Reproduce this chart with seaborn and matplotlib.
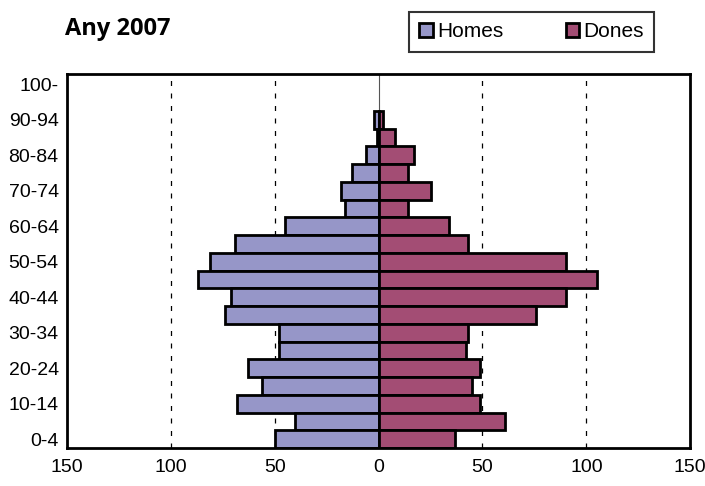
import numpy as np
import pandas as pd
import seaborn as sns
from matplotlib import pyplot as plt
from matplotlib.patches import Patch

ages = ["0-4", "5-9", "10-14", "15-19", "20-24", "25-29", "30-34", "35-39",
        "40-44", "45-49", "50-54", "55-59", "60-64", "65-69", "70-74",
        "75-79", "80-84", "85-89", "90-94", "95-99", "100-"]
homes = [50, 40, 68, 56, 63, 48, 48, 74, 71, 87, 81, 69, 45, 16, 18, 13, 6, 1, 2, 0, 0]
dones = [37, 61, 49, 45, 49, 42, 43, 76, 90, 105, 90, 43, 34, 14, 25, 14, 17, 8, 2, 0, 0]
xticks = [-150, -100, -50, 0, 50, 100, 150]
xticklabels = ["150", "100", "50", "0", "50", "100", "150"]

c_homes = "#9696C8"
c_dones = "#A34D74"

sns.set_style("white")
plt.rcParams['font.family'] = ['Liberation Sans Narrow', 'Liberation Sans', 'DejaVu Sans']
plt.rcParams['text.color'] = 'black'
plt.rcParams['xtick.color'] = 'black'
plt.rcParams['ytick.color'] = 'black'

df = pd.DataFrame({"age": ages, "homes": [-h for h in homes], "dones": dones})
order = ages[::-1]

fig = plt.figure(figsize=(7.05, 4.86), dpi=100)
ax = fig.add_axes([0.095, 0.078, 0.884, 0.77])

for g in [-100, -50, 50, 100]:
    ax.axvline(g, color="black", lw=0.9, ls=(0, (4, 6)), zorder=0)
ax.axvline(0, color="#555555", lw=0.8, zorder=0)

sns.barplot(data=df, x="homes", y="age", order=order, orient="h", width=1,
            color=c_homes, edgecolor="black", linewidth=2, saturation=1, ax=ax)
sns.barplot(data=df, x="dones", y="age", order=order, orient="h", width=1,
            color=c_dones, edgecolor="black", linewidth=2, saturation=1, ax=ax)
# empty age groups: no outline drawn
for p in ax.patches:
    if p.get_width() == 0:
        p.set_visible(False)

ax.set_xlim(-150, 150)
ax.set_ylim(20.5, -0.58)
ax.set_xticks(xticks)
ax.set_xticklabels(xticklabels, fontsize=14)
ypos = list(range(0, 21, 2))
ax.set_yticks(ypos)
ax.set_yticklabels([order[i] for i in ypos], fontsize=14)
ax.tick_params(axis="x", length=0, pad=8)
ax.tick_params(axis="y", length=0, pad=6)
ax.set_xlabel("")
ax.set_ylabel("")
for s in ax.spines.values():
    s.set_visible(True)
    s.set_color("black")
    s.set_linewidth(2)

fig.text(0.092, 0.94, "Any 2007", fontsize=17, fontweight="bold",
         family=["Open Sans", "DejaVu Sans"], va="center", color="black")

handles = [Patch(facecolor=c_homes, edgecolor="black", linewidth=2, label="Homes"),
           Patch(facecolor=c_dones, edgecolor="black", linewidth=2, label="Dones")]
leg = fig.legend(handles=handles, loc="center", bbox_to_anchor=(0.754, 0.935),
                 ncol=2, fontsize=15, frameon=True, fancybox=False,
                 handlelength=0.65, handleheight=0.65, handletextpad=0.2,
                 columnspacing=3.0, borderpad=0.5)
leg.get_frame().set_edgecolor("black")
leg.get_frame().set_linewidth(1.5)

plt.savefig("out.png", dpi=100)
